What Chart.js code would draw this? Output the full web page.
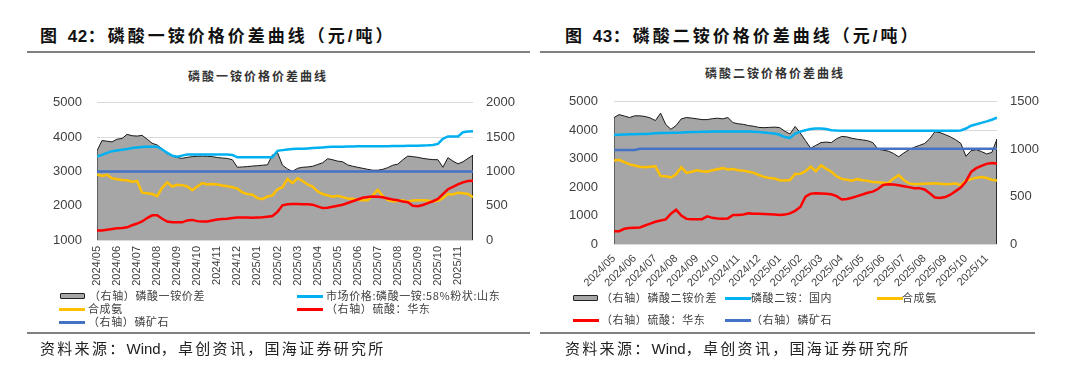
<!DOCTYPE html>
<html lang="zh-CN">
<head>
<meta charset="utf-8">
<title>磷酸一铵 / 磷酸二铵价格价差曲线</title>
<script src="https://cdn.jsdelivr.net/npm/chart.js@4.4.1/dist/chart.umd.min.js"></script>
<style>
    body {
        margin: 0;
        width: 1080px;
        height: 377px;
        background: #fff;
        position: relative;
        overflow: hidden;
        font-family: "Liberation Sans", "Noto Sans CJK SC", sans-serif;
    }
    .abs { position: absolute; }
    .fig-title { font-size: 17px; font-weight: bold; color: #111; letter-spacing: 3px; line-height: 20px; white-space: nowrap; }
    .fig-title .num { letter-spacing: 0.5px; }
    .rule { height: 2px; background: #808080; }
    .chart-title { font-family: "Noto Sans CJK SC"; font-weight: bold; font-size: 12px; letter-spacing: 2px; color: #333; line-height: 14px; white-space: nowrap; transform: translateX(-50%); }
    .source { font-size: 15px; color: #222; letter-spacing: 2.3px; line-height: 18px; white-space: nowrap; }
    .source .en { letter-spacing: 0; }
    .lg-text { font-family: "Noto Sans CJK SC"; font-size: 11px; color: #404040; line-height: 13px; white-space: nowrap; letter-spacing: 0.6px; }
    .lg-line { height: 3px; }
    .lg-box { height: 4px; background: #a6a6a6; border: 1.5px solid #222; border-radius: 1px; }
</style>
</head>
<body>

<!-- 图 42 -->
<div class="abs fig-title" style="left:40px; top:27px;">图 <span class="num">42</span>：磷酸一铵价格价差曲线（元/吨）</div>
<div class="abs rule" style="left:27px; top:51px; width:503px;"></div>
<div class="abs chart-title" style="left:258px; top:69px;">磷酸一铵价格价差曲线</div>
<canvas id="mapChart" class="abs" style="left:30px; top:80px;" width="490" height="212"></canvas>
<div id="mapLegend"></div>
<div class="abs rule" style="left:27px; top:332px; width:503px;"></div>
<div class="abs source" style="left:40px; top:340px;">资料来源：<span class="en">Wind</span>，卓创资讯，国海证券研究所</div>

<!-- 图 43 -->
<div class="abs fig-title" style="left:565px; top:27px;">图 <span class="num">43</span>：磷酸二铵价格价差曲线（元/吨）</div>
<div class="abs rule" style="left:540px; top:51px; width:495px;"></div>
<div class="abs chart-title" style="left:775px; top:66px;">磷酸二铵价格价差曲线</div>
<canvas id="dapChart" class="abs" style="left:550px; top:78px;" width="495" height="215"></canvas>
<div id="dapLegend"></div>
<div class="abs rule" style="left:540px; top:332px; width:495px;"></div>
<div class="abs source" style="left:565px; top:340px;">资料来源：<span class="en">Wind</span>，卓创资讯，国海证券研究所</div>

<script>
// 月份刻度 (x = 距 2024/05 的月数)
const monthLabels = ['2024/05', '2024/06', '2024/07', '2024/08', '2024/09', '2024/10', '2024/11', '2024/12',
    '2025/01', '2025/02', '2025/03', '2025/04', '2025/05', '2025/06', '2025/07', '2025/08', '2025/09',
    '2025/10', '2025/11'];
const STEP = 0.25; // 每周一个点

const COLORS = {
    spread: '#a6a6a6',
    price: '#00b0f0',
    ammonia: '#ffc000',
    sulfuric: '#ff0000',
    rock: '#4472c4'
};

// ---- 图42 磷酸一铵 ----
const mapSpread = [
    1300, 1450, 1440, 1430, 1470, 1480, 1540, 1520, 1515, 1525, 1470, 1410, 1385, 1330, 1260, 1225,
    1202, 1190, 1205, 1215, 1220, 1222, 1220, 1215, 1202, 1195, 1189, 1170, 1060, 1065, 1070, 1078,
    1083, 1090, 1096, 1240, 1275, 1090, 1035, 1000, 1045, 1060, 1065, 1074, 1100, 1125, 1185, 1170,
    1150, 1140, 1095, 1075, 1060, 1045, 1030, 1017, 1017, 1030, 1055, 1090, 1105, 1170, 1223, 1215,
    1205, 1190, 1179, 1172, 1170, 1060, 1200, 1150, 1110, 1140, 1190, 1236
];
const mapPrice = [
    3430, 3480, 3540, 3590, 3610, 3630, 3650, 3680, 3700, 3710, 3720, 3720, 3720, 3640, 3540, 3460,
    3430, 3460, 3490, 3490, 3490, 3490, 3490, 3490, 3490, 3490, 3490, 3480, 3410, 3410, 3410, 3410,
    3410, 3410, 3410, 3410, 3600, 3620, 3640, 3650, 3660, 3660, 3670, 3680, 3690, 3700, 3710, 3720,
    3720, 3720, 3725, 3725, 3730, 3730, 3730, 3730, 3730, 3735, 3735, 3740, 3740, 3740, 3745, 3745,
    3750, 3755, 3760, 3770, 3800, 3950, 4020, 4020, 4020, 4140, 4160, 4170
];
const mapAmmonia = [
    2910, 2870, 2900, 2800, 2770, 2750, 2740, 2700, 2720, 2380, 2360, 2340, 2280, 2520, 2680, 2560,
    2610, 2600, 2560, 2450, 2560, 2660, 2620, 2630, 2620, 2590, 2570, 2540, 2500, 2390, 2340, 2320,
    2220, 2190, 2270, 2300, 2480, 2540, 2780, 2660, 2800, 2720, 2620, 2560, 2420, 2340, 2300, 2260,
    2290, 2250, 2210, 2200, 2170, 2160, 2160, 2300, 2460, 2280, 2160, 2130, 2140, 2160, 2120, 2150,
    2160, 2160, 2150, 2120, 2140, 2220, 2340, 2330, 2380, 2360, 2340, 2250
];
const mapSulfuric = [
    140, 140, 150, 160, 170, 175, 185, 215, 240, 270, 320, 360, 360, 310, 270, 258,
    258, 258, 285, 293, 275, 270, 270, 285, 300, 305, 310, 320, 328, 328, 328, 326,
    328, 330, 340, 350, 410, 505, 520, 525, 525, 522, 520, 515, 490, 465, 470, 485,
    500, 515, 540, 565, 590, 615, 628, 633, 630, 622, 605, 590, 580, 560, 550, 500,
    493, 510, 537, 565, 600, 670, 740, 775, 810, 840, 860, 865
];
const mapRock = [
    1000, 1000, 1000, 1000, 1000, 1000, 1000, 1000, 1000, 1000, 1000, 1000, 1000, 1000, 1000, 1000,
    1000, 1000, 1000, 1000, 1000, 1000, 1000, 1000, 1000, 1000, 1000, 1000, 1000, 1000, 1000, 1000,
    1000, 1000, 1000, 1000, 1000, 1000, 1000, 1000, 1000, 1000, 1000, 1000, 1000, 1000, 1000, 1000,
    1000, 1000, 1000, 1000, 1000, 1000, 1000, 1000, 1000, 1000, 1000, 1000, 1000, 1000, 1000, 1000,
    1000, 1000, 1000, 1000, 1000, 1000, 1000, 1000, 1000, 1000, 1000, 1000
];

// ---- 图43 磷酸二铵 ----
const dapSpread = [
    1334, 1365, 1350, 1334, 1352, 1352, 1345, 1330, 1302, 1380, 1260, 1210, 1250, 1320, 1334, 1328,
    1321, 1312, 1312, 1322, 1327, 1320, 1334, 1280, 1268, 1262, 1249, 1242, 1230, 1227, 1230, 1233,
    1228, 1190, 1160, 1240, 1170, 1090, 1010, 1040, 1070, 1075, 1070, 1110, 1135, 1130, 1115, 1105,
    1098, 1090, 1070, 1000, 990, 980, 955, 920, 960, 995, 1020, 1040, 1060, 1110, 1185, 1175,
    1154, 1130, 1100, 1062, 925, 985, 995, 975, 950, 966, 1107
];
const dapPrice = [
    3830, 3840, 3850, 3855, 3860, 3865, 3870, 3880, 3890, 3900, 3905, 3910, 3915, 3920, 3930, 3935,
    3940, 3945, 3950, 3954, 3954, 3954, 3954, 3954, 3954, 3954, 3954, 3950, 3935, 3920, 3900, 3885,
    3840, 3760, 3730, 3880, 3950, 4000, 4040, 4059, 4059, 4040, 4000, 3990, 3985, 3985, 3985, 3985,
    3985, 3985, 3985, 3985, 3985, 3985, 3985, 3985, 3985, 3985, 3985, 3985, 3985, 3985, 3985, 3985,
    3985, 3985, 3985, 3990, 4060, 4160, 4210, 4260, 4310, 4370, 4446
];
const dapAmmonia = [
    2940, 2960, 2880, 2800, 2760, 2720, 2700, 2720, 2730, 2390, 2385, 2340, 2450, 2700, 2500, 2540,
    2590, 2560, 2545, 2594, 2630, 2667, 2620, 2640, 2594, 2580, 2542, 2500, 2420, 2360, 2320, 2300,
    2240, 2230, 2250, 2460, 2470, 2560, 2720, 2560, 2760, 2640, 2542, 2380, 2290, 2260, 2228, 2280,
    2240, 2220, 2180, 2170, 2150, 2144, 2300, 2420, 2250, 2130, 2102, 2110, 2120, 2123, 2140, 2120,
    2102, 2110, 2123, 2071, 2230, 2280, 2333, 2354, 2320, 2260, 2228
];
const dapSulfuric = [
    135, 135, 160, 168, 172, 175, 195, 215, 235, 248, 260, 320, 361, 300, 265, 260,
    260, 262, 292, 276, 268, 267, 270, 307, 307, 312, 323, 320, 318, 317, 315, 312,
    307, 310, 323, 350, 390, 500, 530, 536, 533, 530, 525, 505, 470, 475, 488, 505,
    522, 540, 552, 580, 622, 630, 628, 620, 610, 600, 589, 589, 575, 535, 490, 486,
    495, 520, 558, 595, 660, 760, 800, 824, 845, 855, 850
];
const dapRock = [
    992, 992, 992, 992, 992, 1005, 1005, 1005, 1005, 1005, 1005, 1005, 1005, 1005, 1005, 1005,
    1005, 1005, 1005, 1005, 1005, 1005, 1005, 1005, 1005, 1005, 1005, 1005, 1005, 1005, 1005, 1005,
    1005, 1005, 1005, 1005, 1005, 1005, 1005, 1005, 1005, 1005, 1005, 1005, 1005, 1005, 1005, 1005,
    1005, 1005, 1005, 1005, 1005, 1005, 1005, 1005, 1005, 1005, 1005, 1005, 1005, 1005, 1005, 1005,
    1005, 1005, 1005, 1005, 1005, 1005, 1005, 1005, 1005, 1005, 1005
];

// 数组 -> {x, y}
function toPoints(values) {
    return values.map((v, i) => ({ x: i * STEP, y: v }));
}

// 面积图两端落到 0，画出竖边
function toArea(values) {
    const pts = toPoints(values);
    const last = pts[pts.length - 1].x;
    return [{ x: 0, y: 0 }, ...pts, { x: last, y: 0 }];
}

function lineSet(label, values, color, axis, order) {
    return {
        type: 'line',
        label,
        data: toPoints(values),
        yAxisID: axis,
        borderColor: color,
        borderWidth: 2.5,
        pointRadius: 0,
        tension: 0,
        fill: false,
        order
    };
}

const tickFont = { family: 'Liberation Sans', size: 13 };
const plainNum = v => String(v); // 不要千分位

function makeChart(canvasId, cfg) {
    const xMax = (cfg.spread.length - 1) * STEP;
    return new Chart(document.getElementById(canvasId), {
        type: 'line',
        data: {
            datasets: [
                lineSet(cfg.labels[4], cfg.rock, COLORS.rock, 'yR', 1),
                lineSet(cfg.labels[3], cfg.sulfuric, COLORS.sulfuric, 'yR', 2),
                lineSet(cfg.labels[2], cfg.ammonia, COLORS.ammonia, 'yL', 3),
                lineSet(cfg.labels[1], cfg.price, COLORS.price, 'yL', 4),
                {
                    type: 'line',
                    label: cfg.labels[0],
                    data: toArea(cfg.spread),
                    yAxisID: 'yR',
                    borderColor: '#1a1a1a',
                    borderWidth: 1,
                    backgroundColor: COLORS.spread,
                    pointRadius: 0,
                    tension: 0,
                    fill: 'origin',
                    order: 10
                }
            ]
        },
        options: {
            responsive: false,
            animation: false,
            layout: { padding: { top: 7, left: 0, right: 0, bottom: 0 } },
            plugins: {
                legend: { display: false },
                tooltip: { enabled: false }
            },
            scales: {
                x: {
                    type: 'linear',
                    min: 0,
                    max: xMax,
                    grid: { display: false, drawTicks: false },
                    border: { display: false },
                    // 每月一个刻度
                    afterBuildTicks: s => { s.ticks = monthLabels.map((_, i) => ({ value: i })); },
                    afterFit: s => { s.height = cfg.xHeight; },
                    ticks: {
                        autoSkip: false,
                        minRotation: cfg.rotation,
                        maxRotation: cfg.rotation,
                        padding: cfg.xPad,
                        color: '#404040',
                        font: { family: 'Liberation Sans', size: 11 },
                        callback: v => monthLabels[v] ?? ''
                    }
                },
                yL: {
                    position: 'left',
                    min: cfg.left[0],
                    max: cfg.left[1],
                    grid: { color: '#d9d9d9', drawTicks: false },
                    border: { display: false },
                    afterFit: s => { s.width = cfg.leftW; },
                    ticks: { stepSize: 1000, padding: cfg.leftPad, color: '#404040', font: tickFont, callback: plainNum }
                },
                yR: {
                    position: 'right',
                    min: 0,
                    max: cfg.rightMax,
                    grid: { display: false, drawTicks: false },
                    border: { display: false },
                    afterFit: s => { s.width = cfg.rightW; },
                    ticks: { stepSize: 500, padding: 13, color: '#404040', font: tickFont, callback: plainNum }
                }
            }
        }
    });
}

// 图例 (HTML)
function legendItem(parent, x, y, kind, color, text, textX) {
    const mark = document.createElement('div');
    mark.className = 'abs ' + (kind === 'box' ? 'lg-box' : 'lg-line');
    if (kind === 'box') {
        mark.style.cssText = `left:${x}px; top:${y - 3.5}px; width:23px;`;
    } else {
        mark.style.cssText = `left:${x}px; top:${y - 1.5}px; width:26px; background:${color};`;
    }
    const label = document.createElement('div');
    label.className = 'abs lg-text';
    label.style.cssText = `left:${textX}px; top:${y - 7}px;`;
    label.textContent = text;
    parent.appendChild(mark);
    parent.appendChild(label);
}

const mapLabels = ['（右轴）磷酸一铵价差', '市场价格:磷酸一铵:58%粉状:山东', '合成氨', '（右轴）硫酸：华东', '（右轴）磷矿石'];
const dapLabels = ['（右轴）磷酸二铵价差', '磷酸二铵：国内', '合成氨', '（右轴）硫酸：华东', '（右轴）磷矿石'];

makeChart('mapChart', {
    labels: mapLabels,
    spread: mapSpread, price: mapPrice, ammonia: mapAmmonia, sulfuric: mapSulfuric, rock: mapRock,
    left: [1000, 5000], rightMax: 2000,
    leftW: 67, rightW: 47, xHeight: 52, rotation: 90, xPad: 6, leftPad: 15
});

makeChart('dapChart', {
    labels: dapLabels,
    spread: dapSpread, price: dapPrice, ammonia: dapAmmonia, sulfuric: dapSulfuric, rock: dapRock,
    left: [0, 5000], rightMax: 1500,
    leftW: 64, rightW: 48, xHeight: 49, rotation: 45, xPad: 8, leftPad: 16
});

const mapLg = document.getElementById('mapLegend');
legendItem(mapLg, 60, 296, 'box', COLORS.spread, mapLabels[0], 89);
legendItem(mapLg, 297, 296, 'line', COLORS.price, mapLabels[1], 326);
legendItem(mapLg, 59, 309, 'line', COLORS.ammonia, mapLabels[2], 88);
legendItem(mapLg, 297, 309, 'line', COLORS.sulfuric, mapLabels[3], 326);
legendItem(mapLg, 59, 322, 'line', COLORS.rock, mapLabels[4], 88);

const dapLg = document.getElementById('dapLegend');
legendItem(dapLg, 573, 298, 'box', COLORS.spread, dapLabels[0], 601);
legendItem(dapLg, 725, 298, 'line', COLORS.price, dapLabels[1], 751);
legendItem(dapLg, 877, 298, 'line', COLORS.ammonia, dapLabels[2], 902);
legendItem(dapLg, 573, 320, 'line', COLORS.sulfuric, dapLabels[3], 601);
legendItem(dapLg, 725, 320, 'line', COLORS.rock, dapLabels[4], 751);
</script>
</body>
</html>
